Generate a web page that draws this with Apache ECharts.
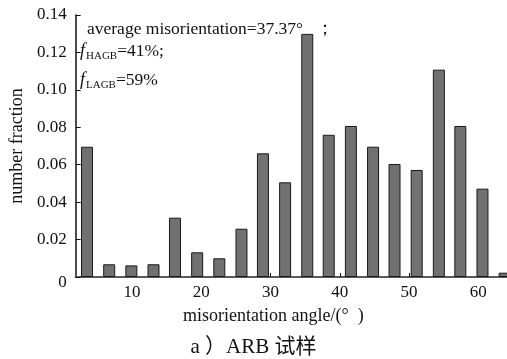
<!DOCTYPE html>
<html>
<head>
<meta charset="utf-8">
<script src="https://cdn.jsdelivr.net/npm/echarts@6/dist/echarts.min.js"></script>
<style>html,body{margin:0;padding:0;background:#fff}#c{width:507px;height:359px}</style>
</head>
<body>
<div id="c"></div>
<script>
// Bin centres (degrees) and number fraction values
var binCenters = [3.5, 6.7, 9.9, 13.1, 16.2, 19.4, 22.6, 25.8, 28.9, 32.1, 35.3, 38.4, 41.6, 44.8, 47.9, 51.1, 54.3, 57.4, 60.6, 63.8];
var fractions = [0.0696, 0.0068, 0.0062, 0.0068, 0.0317, 0.0132, 0.0100, 0.0258, 0.0661, 0.0506, 0.1299, 0.0760, 0.0807, 0.0696, 0.0604, 0.0572, 0.1108, 0.0807, 0.0472, 0.0023];
var xTicks = [10, 20, 30, 40, 50, 60];
var yTicks = [0, 0.02, 0.04, 0.06, 0.08, 0.10, 0.12, 0.14];
var annotation = ['average misorientation=37.37°   ；', 'HAGB', '=41%;', 'LAGB', '=59%'];
var xName = 'misorientation angle/(°  )';
var yName = 'number fraction';
var caption = 'a ）ARB 试样';

var serif = '"Liberation Serif", "DejaVu Serif", serif';
var chart = echarts.init(document.getElementById('c'), null, {renderer: 'canvas'});
var data = binCenters.map(function (c, i) { return [c, fractions[i]]; });

chart.setOption({
  animation: false,
  grid: {left: 71, top: 15, right: 0, bottom: 82, containLabel: false},
  xAxis: [{
    type: 'value', min: 1.857, max: 64.14,
    splitLine: {show: false},
    axisLine: {show: true, onZero: false, lineStyle: {color: '#111', width: 1.5}},
    axisTick: {show: true, inside: true, length: 4, customValues: xTicks, lineStyle: {color: '#111'}},
    axisLabel: {customValues: xTicks, color: '#111', fontFamily: serif, fontSize: 17, margin: 7},
    name: xName, nameLocation: 'middle', nameGap: 30,
    nameTextStyle: {color: '#111', fontFamily: serif, fontSize: 18, padding: [0, 36, 0, 0]}
  }, {
    type: 'value', position: 'top', min: 1.857, max: 64.14,
    splitLine: {show: false},
    axisLine: {show: true, lineStyle: {color: '#5a5a5a', width: 2}},
    axisTick: {show: false}, axisLabel: {show: false}
  }],
  yAxis: {
    type: 'value', min: 0, max: 0.14, interval: 0.02,
    splitLine: {show: false},
    axisLine: {show: true, lineStyle: {color: '#111', width: 1.5}},
    axisTick: {show: true, inside: true, length: 5, lineStyle: {color: '#111'}},
    axisLabel: {
      color: '#111', fontFamily: serif, fontSize: 17, margin: 9,
      formatter: function (v) {
        if (Math.abs(v) < 1e-9) return '{z|0}';
        return v.toFixed(2);
      },
      rich: {z: {fontFamily: serif, fontSize: 17, color: '#111', padding: [12, 0, 0, 0]}}
    },
    name: yName, nameLocation: 'middle', nameGap: 45, nameRotate: 90,
    nameTextStyle: {color: '#111', fontFamily: serif, fontSize: 18}
  },
  series: [{
    type: 'bar', xAxisIndex: 0, data: data, barWidth: 12,
    itemStyle: {color: '#717171', borderColor: '#1a1a1a', borderWidth: 1}
  }],
  graphic: [
    {type: 'text', left: 87, top: 20, style: {text: annotation[0], font: '17.5px ' + serif, fill: '#111'}},
    {type: 'text', left: 80, top: 42, style: {
      text: '{f|f}{s|' + annotation[1] + '}{n|' + annotation[2] + '}',
      rich: {
        f: {font: 'italic 18px ' + serif, fill: '#111'},
        s: {font: '11px ' + serif, fill: '#111', padding: [10, 0, 0, 1]},
        n: {font: '17.5px ' + serif, fill: '#111'}
      }}},
    {type: 'text', left: 80, top: 71, style: {
      text: '{f|f}{s|' + annotation[3] + '}{n|' + annotation[4] + '}',
      rich: {
        f: {font: 'italic 18px ' + serif, fill: '#111'},
        s: {font: '11px ' + serif, fill: '#111', padding: [10, 0, 0, 1]},
        n: {font: '17.5px ' + serif, fill: '#111'}
      }}},
    {type: 'text', left: 'center', top: 337, style: {text: caption, font: '21px ' + serif + ', "Noto Sans CJK SC"', fill: '#111'}}
  ]
});
</script>
</body>
</html>
